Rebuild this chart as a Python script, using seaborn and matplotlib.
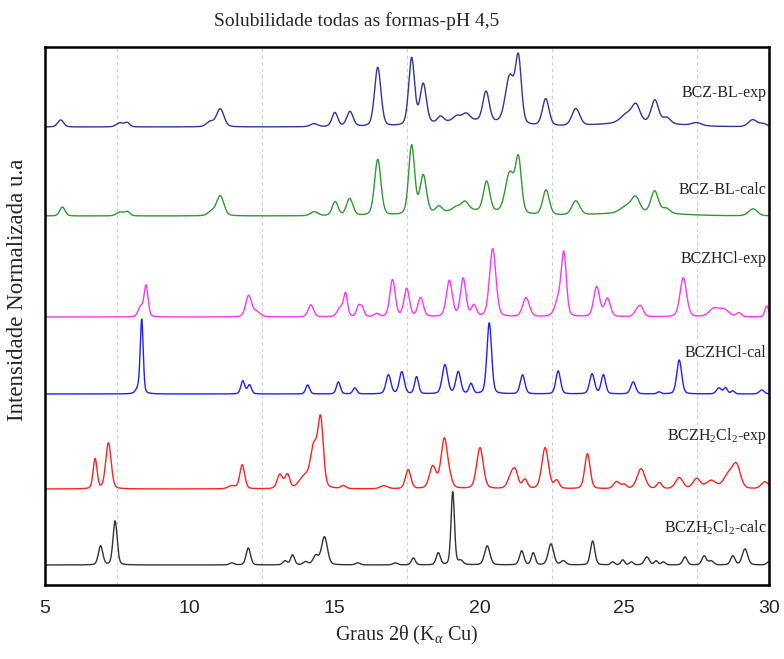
import numpy as np
import pandas as pd
import matplotlib
matplotlib.use("Agg")
import matplotlib.pyplot as plt
import seaborn as sns

# ---- diffraction data: peak tables (2theta, height, FWHM) and baseline offsets ----
series_names = ["BCZ-BL-exp", "BCZ-BL-calc", "BCZHCl-exp", "BCZHCl-cal",
                "BCZH2Cl2-exp", "BCZH2Cl2-calc"]
series_labels = ["BCZ-BL-exp", "BCZ-BL-calc", "BCZHCl-exp", "BCZHCl-cal",
                 r"BCZH$_2$Cl$_2$-exp", r"BCZH$_2$Cl$_2$-calc"]
series_colors = ["#33339c", "#2f9a2f", "#ff33ff", "#2020ff", "#ff2020", "#333333"]
baseline_offsets = [458, 369, 268, 191, 96, 20]
label_heights = [488, 391, 322, 228, 145, 52]

bl_exp_pos = [5.54, 7.59, 7.84, 10.7, 11.05, 14.29, 15.01, 15.53, 16.49, 17.66, 18.06,
              18.66, 19.22, 19.54, 20.23, 21.05, 21.35, 22.29, 23.33, 25.1, 25.41,
              26.06, 26.47, 27.5, 29.44, 29.8, 19.6, 25.5]
bl_exp_h = [7, 4, 4, 5, 18, 3, 14, 15, 59, 67, 40, 6, 5, 7, 30, 47, 63, 27, 17, 9, 16,
            23, 6, 3, 7, 3, 6, 4]
bl_exp_w = [0.24, 0.3, 0.2, 0.3, 0.3, 0.3, 0.24, 0.26, 0.26, 0.24, 0.26, 0.25, 0.3,
            0.3, 0.26, 0.36, 0.24, 0.27, 0.32, 0.5, 0.32, 0.3, 0.3, 0.4, 0.35, 0.3, 2.5, 3.0]

bl_calc_pos = [5.6, 7.6, 7.85, 10.75, 11.05, 14.3, 15.02, 15.52, 16.49, 17.66, 18.06,
               18.6, 19.2, 19.5, 20.25, 21.05, 21.35, 22.3, 23.33, 25.1, 25.4, 26.05,
               26.45, 29.45, 19.6, 25.5]
bl_calc_h = [9, 4, 4, 4, 20, 4, 14, 17, 56, 69, 38, 6, 4, 9, 30, 40, 52, 25, 14, 7, 14,
             22, 5, 7, 5, 3]
bl_calc_w = [0.22, 0.3, 0.2, 0.3, 0.3, 0.3, 0.24, 0.26, 0.26, 0.24, 0.26, 0.25, 0.3,
             0.3, 0.26, 0.36, 0.24, 0.27, 0.32, 0.5, 0.32, 0.3, 0.3, 0.35, 2.5, 3.0]

hcl_exp_pos = [8.3, 8.49, 12.03, 12.3, 14.18, 15.2, 15.38, 15.82, 15.95, 16.45, 17.0,
               17.49, 17.97, 18.96, 19.44, 19.81, 20.46, 21.61, 22.75, 22.92, 24.05,
               24.42, 25.45, 25.58, 27.04, 28.1, 28.45, 28.96, 29.92]
hcl_exp_h = [10, 31, 21, 5, 12, 9, 22, 10, 9, 3, 37, 28, 19, 36, 38, 11, 68, 19, 18,
             58, 30, 18, 6, 8, 39, 8, 7, 4, 11]
hcl_exp_w = [0.2, 0.16, 0.24, 0.3, 0.22, 0.25, 0.16, 0.16, 0.16, 0.2, 0.22, 0.22, 0.22,
             0.24, 0.22, 0.2, 0.26, 0.27, 0.3, 0.2, 0.24, 0.24, 0.25, 0.22, 0.27, 0.4,
             0.4, 0.2, 0.15]

hcl_cal_pos = [8.22, 8.34, 11.83, 12.06, 14.07, 15.13, 15.7, 16.86, 17.32, 17.83, 18.81,
               19.27, 19.71, 20.34, 21.49, 22.72, 23.89, 24.28, 25.31, 26.2, 26.9,
               28.27, 28.5, 28.75, 29.75]
hcl_cal_h = [5, 73, 13, 9, 9, 12, 6, 19, 22, 17, 29, 22, 10, 71, 19, 23, 20, 19, 12, 2,
             34, 6, 6, 3, 4]
hcl_cal_w = [0.2, 0.12, 0.16, 0.16, 0.16, 0.16, 0.16, 0.2, 0.2, 0.16, 0.22, 0.2, 0.16,
             0.19, 0.19, 0.19, 0.2, 0.18, 0.2, 0.15, 0.2, 0.2, 0.15, 0.15, 0.2]

h2cl2_exp_pos = [6.73, 7.19, 11.45, 11.81, 13.11, 13.37, 13.85, 14.0, 14.28, 14.52, 15.3,
                 16.7, 17.54, 18.39, 18.79, 19.0, 20.02, 21.1, 21.25, 21.57, 22.27,
                 22.67, 23.73, 24.74, 25.0, 25.58, 26.21, 26.9, 27.5, 28.0, 28.6, 28.88,
                 29.86]
h2cl2_exp_h = [30, 46, 3, 24, 14, 14, 8, 6, 42, 65, 3, 3, 19, 22, 50, 5, 41, 13, 14, 9,
               41, 8, 35, 7, 4, 20, 6, 11, 10, 8, 14, 22, 7]
h2cl2_exp_w = [0.16, 0.22, 0.3, 0.2, 0.22, 0.2, 0.3, 0.2, 0.3, 0.22, 0.2, 0.3, 0.22, 0.27,
               0.27, 0.2, 0.27, 0.27, 0.22, 0.2, 0.27, 0.2, 0.22, 0.25, 0.2, 0.32, 0.2,
               0.3, 0.3, 0.4, 0.4, 0.32, 0.3]

h2cl2_calc_pos = [6.92, 7.42, 11.45, 12.02, 13.29, 13.55, 14.0, 14.35, 14.65, 15.8, 17.1,
                  17.72, 18.58, 19.08, 19.35, 20.27, 21.46, 21.86, 22.47, 22.9, 23.91,
                  24.6, 24.95, 25.25, 25.78, 26.1, 26.35, 27.1, 27.76, 28.0, 28.75,
                  29.17, 29.98]
h2cl2_calc_h = [19, 44, 2, 17, 4, 10, 3, 9, 28, 2, 2, 7, 12, 73, 4, 19, 14, 12, 21, 4,
                24, 3, 5, 3, 8, 4, 3, 8, 9, 4, 9, 16, 3]
h2cl2_calc_w = [0.18, 0.17, 0.2, 0.18, 0.18, 0.16, 0.2, 0.22, 0.24, 0.2, 0.2, 0.16, 0.17,
                0.14, 0.2, 0.22, 0.18, 0.16, 0.22, 0.2, 0.18, 0.15, 0.15, 0.15, 0.2, 0.15,
                0.15, 0.18, 0.18, 0.2, 0.18, 0.22, 0.15]

peak_tables = [
    (bl_exp_pos, bl_exp_h, bl_exp_w),
    (bl_calc_pos, bl_calc_h, bl_calc_w),
    (hcl_exp_pos, hcl_exp_h, hcl_exp_w),
    (hcl_cal_pos, hcl_cal_h, hcl_cal_w),
    (h2cl2_exp_pos, h2cl2_exp_h, h2cl2_exp_w),
    (h2cl2_calc_pos, h2cl2_calc_h, h2cl2_calc_w),
]

x_ticks = [5, 10, 15, 20, 25, 30]
grid_positions = [7.5, 12.5, 17.5, 22.5, 27.5]


def pseudo_voigt(x, center, height, fwhm, eta=0.25):
    g = np.exp(-4 * np.log(2) * ((x - center) / fwhm) ** 2)
    lo = 1.0 / (1.0 + 4 * ((x - center) / fwhm) ** 2)
    return height * ((1 - eta) * g + eta * lo)


two_theta = np.linspace(5, 30, 2501)
frames = []
for name, offset, (pos, hts, wds) in zip(series_names, baseline_offsets, peak_tables):
    y = np.full_like(two_theta, float(offset))
    for c, h, w in zip(pos, hts, wds):
        y += pseudo_voigt(two_theta, c, h, w)
    frames.append(pd.DataFrame({"two_theta": two_theta, "intensity": y, "series": name}))
df = pd.concat(frames, ignore_index=True)

# ---- figure ----
sns.set_style("white")
plt.rcParams["font.family"] = ["Liberation Serif", "DejaVu Serif"]
plt.rcParams["mathtext.fontset"] = "custom"
plt.rcParams["mathtext.rm"] = "Liberation Serif"
plt.rcParams["mathtext.it"] = "Liberation Serif:italic"

fig = plt.figure(figsize=(7.84, 6.59), dpi=100)
ax = fig.add_axes([45 / 784, 74 / 659, 724 / 784, 538 / 659])

sns.lineplot(data=df, x="two_theta", y="intensity", hue="series",
             hue_order=series_names, palette=dict(zip(series_names, series_colors)),
             estimator=None, sort=False, legend=False, linewidth=1.0, ax=ax)

ax.set_xlim(5, 30)
ax.set_ylim(0, 538)
ax.set_yticks([])
ax.set_xticks(x_ticks)
ax.set_xticks(grid_positions, minor=True)
ax.set_xticklabels([str(t) for t in x_ticks], fontfamily="Liberation Sans", fontsize=14)
ax.tick_params(axis="x", which="major", direction="out", length=7, width=1.5,
               color="black", pad=4)
ax.tick_params(axis="x", which="minor", direction="out", length=4, width=1.2,
               color="black")
ax.grid(False)
for gx in grid_positions:
    ax.axvline(gx, color="#cccccc", linestyle=(0, (3, 3)), linewidth=0.8, zorder=0)
for sp in ax.spines.values():
    sp.set_linewidth(1.8)
    sp.set_color("black")

for lab, ly in zip(series_labels, label_heights):
    ax.text(29.92, ly, lab, ha="right", va="baseline", fontsize=11.5, color="#222222")

ax.set_xlabel(r"Graus 2θ (K$_{α}$ Cu)", fontsize=14.5, labelpad=5)
ax.set_ylabel("")
fig.text(18 / 784, 1 - 290 / 659, "Intensidade Normalizada u.a", rotation=90,
         ha="center", va="center", fontsize=16.5)
fig.text(357 / 784, 1 - 21 / 659, "Solubilidade todas as formas-pH 4,5",
         ha="center", va="center", fontsize=14)

fig.savefig("out.png", dpi=100)
